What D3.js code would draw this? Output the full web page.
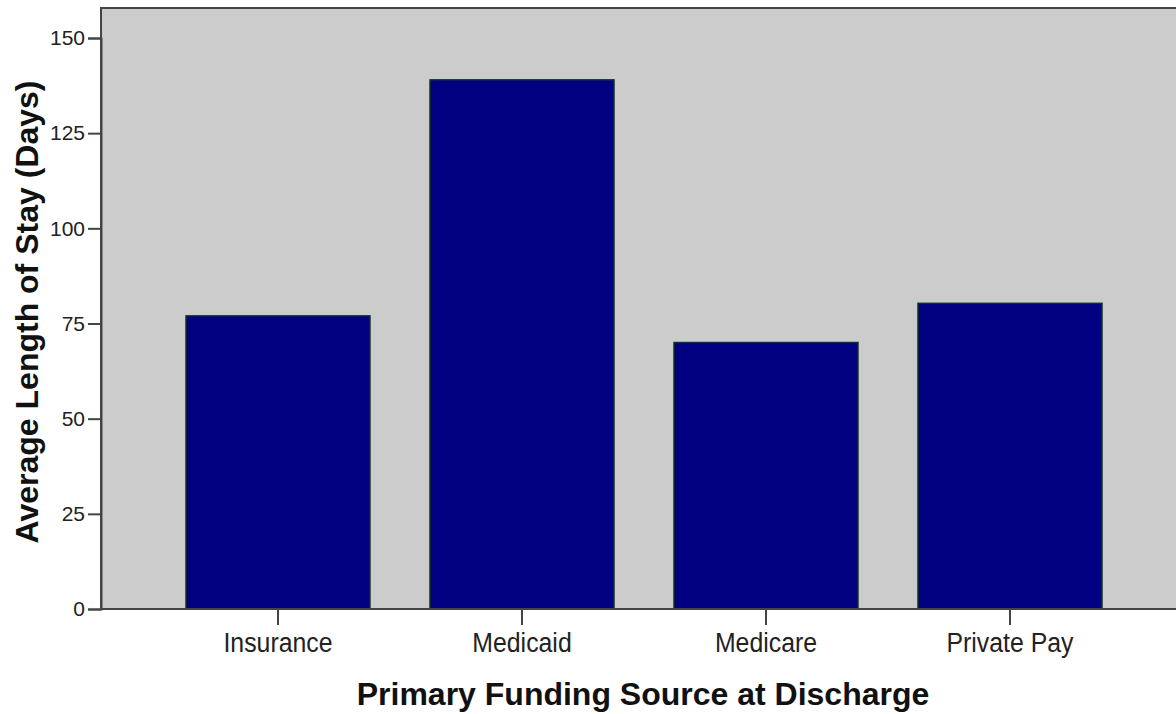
<!DOCTYPE html>
<html>
<head>
<meta charset="utf-8">
<script src="https://cdn.jsdelivr.net/npm/d3@7"></script>
<style>
  body { margin: 0; background: #fff; }
  svg { display: block; font-family: "Liberation Sans", Arial, sans-serif; }
</style>
</head>
<body>
<div id="chart"></div>
<script>
const categories = ['Insurance', 'Medicaid', 'Medicare', 'Private Pay'];
const avgStay = [77, 139, 70, 80.3];
const yTicks = [0, 25, 50, 75, 100, 125, 150];

const width = 1176, height = 714;
const plot = { left: 101, top: 8, right: 1180, bottom: 609 };

const svg = d3.select('#chart').append('svg')
  .attr('width', width)
  .attr('height', height);

// grey plot background
svg.append('rect')
  .attr('x', plot.left)
  .attr('y', plot.top)
  .attr('width', plot.right - plot.left)
  .attr('height', plot.bottom - plot.top)
  .attr('fill', '#cccccc')
  .attr('stroke', '#444')
  .attr('stroke-width', 2);

const x = d3.scaleBand()
  .domain(categories)
  .range([156, 1132])
  .paddingInner(0.246)
  .paddingOuter(0.123);

const y = d3.scaleLinear()
  .domain([0, 150])
  .range([plot.bottom, 38]);

// bars
svg.selectAll('.bar')
  .data(categories)
  .enter()
  .append('rect')
  .attr('class', 'bar')
  .attr('x', d => x(d))
  .attr('y', (d, i) => y(avgStay[i]))
  .attr('width', x.bandwidth())
  .attr('height', (d, i) => y(0) - y(avgStay[i]))
  .attr('fill', '#000080')
  .attr('stroke', '#12301f')
  .attr('stroke-width', 1.5);

// y axis
const yAxis = d3.axisLeft(y).tickValues(yTicks).tickSize(13).tickPadding(3);
const yAxisG = svg.append('g')
  .attr('transform', `translate(${plot.left},0)`)
  .call(yAxis);
yAxisG.select('.domain').attr('stroke', '#444').attr('stroke-width', 2);
yAxisG.selectAll('.tick line').attr('stroke', '#444').attr('stroke-width', 2);
yAxisG.selectAll('.tick text')
  .attr('fill', '#222')
  .style('font-size', '21px')
  .style('font-family', '"Liberation Sans", Arial, sans-serif');

// x axis
const xAxis = d3.axisBottom(x).tickSize(16).tickPadding(8).tickSizeOuter(0);
const xAxisG = svg.append('g')
  .attr('transform', `translate(0,${plot.bottom})`)
  .call(xAxis);
xAxisG.select('.domain').remove();
svg.append('line')
  .attr('x1', plot.left).attr('x2', width)
  .attr('y1', plot.bottom).attr('y2', plot.bottom)
  .attr('stroke', '#444').attr('stroke-width', 2);
xAxisG.selectAll('.tick line').attr('stroke', '#444').attr('stroke-width', 2);
xAxisG.selectAll('.tick text')
  .attr('fill', '#222')
  .attr('transform', 'scale(0.92,1)')
  .style('font-size', '27px')
  .style('font-family', '"Liberation Sans", Arial, sans-serif');

// axis titles
svg.append('text')
  .attr('x', 643)
  .attr('y', 705)
  .attr('text-anchor', 'middle')
  .style('font-size', '32px')
  .style('font-weight', 'bold')
  .attr('fill', '#111')
  .text('Primary Funding Source at Discharge');

svg.append('text')
  .attr('transform', 'rotate(-90)')
  .attr('x', -312)
  .attr('y', 38)
  .attr('text-anchor', 'middle')
  .style('font-size', '32px')
  .style('font-weight', 'bold')
  .attr('fill', '#111')
  .text('Average Length of Stay (Days)');
</script>
</body>
</html>
